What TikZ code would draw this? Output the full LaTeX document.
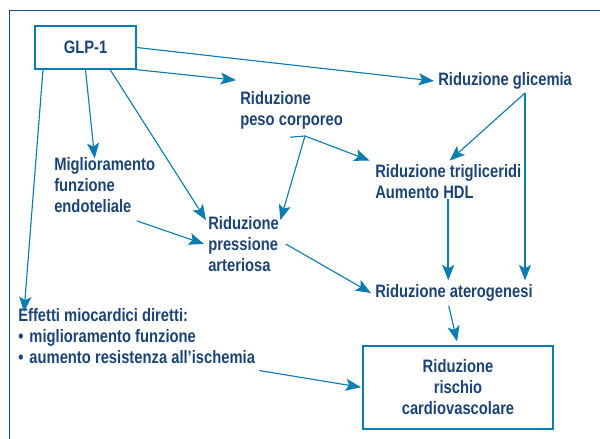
\documentclass[tikz,border=0pt]{standalone}
\usepackage{fontspec}
\setmainfont[FakeStretch=0.82]{Liberation Sans}
\usetikzlibrary{arrows.meta}
\definecolor{arrowblue}{RGB}{11,125,176}
\definecolor{textnavy}{RGB}{27,68,118}
\definecolor{framenavy}{RGB}{28,76,136}
\tikzset{
  lbl/.style={anchor=west, inner sep=3pt, align=left, text=textnavy, font=\fontsize{13.5}{15.75}\selectfont\bfseries},
  bx/.style={draw=arrowblue, line width=1pt, inner sep=0pt, align=center, text=textnavy, font=\fontsize{13.5}{15.75}\selectfont\bfseries},
  arr/.style={color=arrowblue, line width=0.85pt, -{Stealth[length=11.5pt,width=9pt,inset=2.5pt]}},
}
\begin{document}
\begin{tikzpicture}[x=0.75pt,y=0.75pt,yscale=-1,xscale=1]
\useasboundingbox (0,0) rectangle (600,439);

%Shape: Frame
\draw [color=framenavy, line width=1.1pt] (600,10.7) -- (9.3,10.7) -- (9.3,439) ;

% Boxes
\node [bx, minimum width=75.75pt, minimum height=32.25pt] (glp) at (85.5,47.5) {GLP-1};
\node [bx, minimum width=142.5pt, minimum height=62.25pt] (risk) at (458,387.5) {Riduzione\\rischio\\cardiovascolare};

% Text Node
\node [lbl] (gly) at (434,81) {Riduzione glicemia};
\node [lbl] (peso) at (236,110) {Riduzione\\peso corporeo};
\node [lbl] (endo) at (50,185) {Miglioramento\\funzione\\endoteliale};
\node [lbl] (trig) at (371,182) {Riduzione trigliceridi\\Aumento HDL};
\node [lbl] (press) at (204,244) {Riduzione\\pressione\\arteriosa};
\node [lbl] (ater) at (371,293) {Riduzione aterogenesi};
\node [lbl] (eff) at (14,336) {Effetti miocardici diretti:\\\textbullet\hspace{4.5pt}miglioramento funzione\\\textbullet\hspace{4.5pt}aumento resistenza all’ischemia};

% Forks
\coordinate (pesofork) at (305,136);
\coordinate (glyfork) at (525,93);

%Straight Lines
\draw [arr] (glp.east) -- (gly.west) ;
\draw [arr] (glp.south east) -- ([yshift=-5pt]peso.north west) ;
\draw [arr] (glp.south) -- ([xshift=-7.5pt,yshift=4pt]endo.north) ;
\draw [arr] ([xshift=18.5pt]glp.south) -- ([xshift=1.5pt,yshift=6pt]press.north west) ;
\draw [arr] ([xshift=6.5pt]glp.south west) -- ([xshift=7.5pt,yshift=6pt]eff.north west) ;
\draw [arr] (pesofork) -- ([xshift=-2pt,yshift=6pt]press.north east) ;
\draw [color=arrowblue, line width=0.85pt] ([xshift=-1pt,yshift=3pt]peso.south) -- (pesofork) ;
\draw [arr] (pesofork) -- ([xshift=-1pt]trig.north west) ;
\draw [arr] (glyfork) -- ([xshift=1pt]trig.north) ;
\draw [arr] (glyfork) -- (glyfork |- ater.north) ;
\draw [arr, line width=1.4pt] ([yshift=-3pt]trig.south) -- (trig.south |- ater.north) ;
\draw [arr] ([xshift=-17pt,yshift=3pt]endo.south east) -- (press.west) ;
\draw [arr] ([xshift=2pt]press.east) -- (ater.west) ;
\draw [arr, shorten >=3pt] ([xshift=-4pt]ater.south) -- (risk.north) ;
\draw [arr, shorten >=1pt] ([yshift=2pt]eff.south east) -- (risk.west) ;

\end{tikzpicture}
\end{document}
